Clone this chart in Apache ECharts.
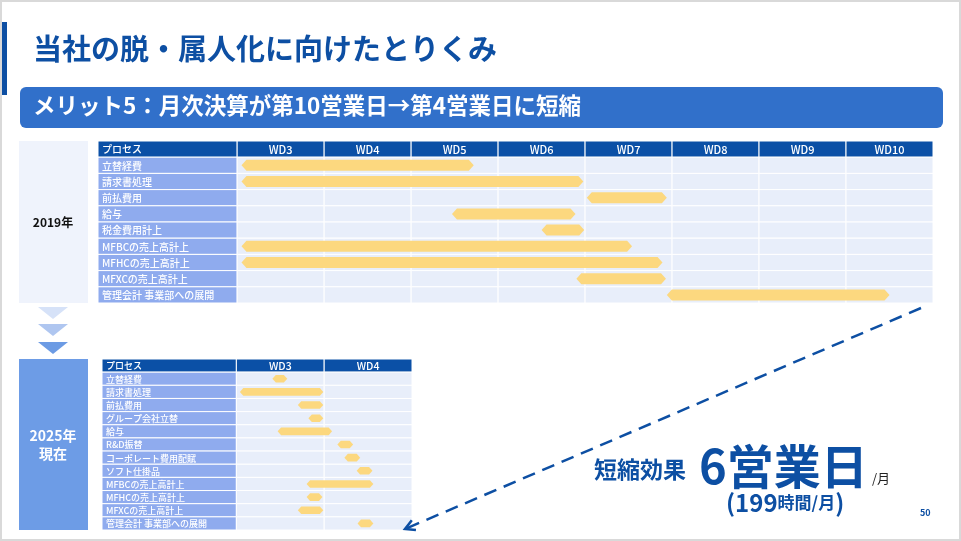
<!DOCTYPE html>
<html>
<head>
<meta charset="utf-8">
<script src="https://cdn.jsdelivr.net/npm/echarts@6/dist/echarts.min.js"></script>
<style>
  html, body { margin: 0; padding: 0; background: #fff; }
  #chart { width: 961px; height: 541px; }
</style>
</head>
<body>
<div id="chart"></div>
<script>
// 2019 schedule (WD3 column spans 3..4, WD10 spans 10..11)
const upperDays = ['WD3', 'WD4', 'WD5', 'WD6', 'WD7', 'WD8', 'WD9', 'WD10'];
const upperProcesses = ['立替経費', '請求書処理', '前払費用', '給与', '税金費用計上', 'MFBCの売上高計上', 'MFHCの売上高計上', 'MFXCの売上高計上', '管理会計 事業部への展開'];
const upperStart = [3.05, 3.05, 7.02, 5.47, 6.50, 3.05, 3.05, 6.90, 7.94];
const upperEnd = [5.72, 6.98, 7.94, 6.89, 6.99, 7.54, 7.89, 7.93, 10.50];

// 2025 schedule
const lowerDays = ['WD3', 'WD4'];
const lowerProcesses = ['立替経費', '請求書処理', '前払費用', 'グループ会社立替', '給与', 'R&D振替', 'コーポレート費用配賦', 'ソフト仕掛品', 'MFBCの売上高計上', 'MFHCの売上高計上', 'MFXCの売上高計上', '管理会計 事業部への展開'];
const lowerStart = [3.41, 3.04, 3.70, 3.82, 3.47, 4.15, 4.23, 4.37, 3.80, 3.80, 3.70, 4.38];
const lowerEnd = [3.58, 3.99, 3.99, 3.99, 4.09, 4.33, 4.41, 4.55, 4.56, 3.98, 3.99, 4.56];

const FONT = '"Noto Sans CJK JP", "Noto Sans", sans-serif';
const BLUE = '#0D4FA3';

// table frame: header row + label column + day cells
function tableSeries(gi, days, processes, xMin, fontSize, headSize) {
  return {
    type: 'custom',
    xAxisIndex: gi, yAxisIndex: gi,
    silent: true, z: 1,
    data: [[0]].concat(processes.map((p, i) => [i + 1])),
    encode: { y: 0 },
    renderItem(params, api) {
      const row = api.value(0);
      const head = row === 0;
      const children = [];
      const cell = (x0, x1, fill, text, align, size) => {
        const a = api.coord([x0, row]);
        const b = api.coord([x1, row + 1]);
        children.push({
          type: 'rect',
          shape: { x: a[0], y: a[1], width: b[0] - a[0], height: b[1] - a[1] },
          style: { fill: fill, stroke: '#fff', lineWidth: 1 }
        });
        if (text) {
          children.push({
            type: 'text',
            x: align === 'left' ? a[0] + 4 : (a[0] + b[0]) / 2,
            y: (a[1] + b[1]) / 2 + 0.5,
            style: {
              text: text, fill: '#fff', align: align, verticalAlign: 'middle',
              font: '500 ' + size + 'px ' + FONT
            }
          });
        }
      };
      cell(xMin, 3, head ? '#0B50A6' : '#8FABEE', head ? 'プロセス' : processes[row - 1], 'left', fontSize);
      days.forEach((d, i) => cell(3 + i, 4 + i, head ? '#0B50A6' : '#E8EEFA', head ? d : '', 'center', headSize));
      return { type: 'group', children: children };
    }
  };
}

// pointed bars
function barSeries(gi, starts, ends, ratio) {
  return {
    type: 'custom',
    xAxisIndex: gi, yAxisIndex: gi,
    silent: true, z: 2,
    data: starts.map((s, i) => [i + 1, s, ends[i]]),
    encode: { y: 0, x: [1, 2] },
    renderItem(params, api) {
      const row = api.value(0);
      const p1 = api.coord([api.value(1), row + 0.5]);
      const p2 = api.coord([api.value(2), row + 0.5]);
      const h = api.size([0, 1])[1] * ratio;
      const t = h * 0.45;
      const y = p1[1];
      return {
        type: 'polygon',
        shape: { points: [[p1[0], y], [p1[0] + t, y - h / 2], [p2[0] - t, y - h / 2], [p2[0], y], [p2[0] - t, y + h / 2], [p1[0] + t, y + h / 2]] },
        style: { fill: '#FCD87F' }
      };
    }
  };
}

// dashed arrow from the upper table to the lower one
const arrowFrom = [921, 308];
const arrowTo = [405, 529];
const dx = arrowTo[0] - arrowFrom[0], dy = arrowTo[1] - arrowFrom[1];
const len = Math.sqrt(dx * dx + dy * dy);
const ux = dx / len, uy = dy / len;
const headLen = 11;
const rot = (x, y, a) => [x * Math.cos(a) - y * Math.sin(a), x * Math.sin(a) + y * Math.cos(a)];
const h1 = rot(-ux, -uy, 0.5), h2 = rot(-ux, -uy, -0.5);

const chart = echarts.init(document.getElementById('chart'));
chart.setOption({
  backgroundColor: '#fff',
  animation: false,
  grid: [
    { left: 98, top: 141, width: 835, height: 162 },
    { left: 102, top: 359, width: 310, height: 171 }
  ],
  xAxis: [
    { type: 'value', gridIndex: 0, min: 1.4, max: 11, show: false },
    { type: 'value', gridIndex: 1, min: 1.47, max: 5, show: false }
  ],
  yAxis: [
    { type: 'value', gridIndex: 0, min: 0, max: 10, inverse: true, show: false },
    { type: 'value', gridIndex: 1, min: 0, max: 13, inverse: true, show: false }
  ],
  series: [
    tableSeries(0, upperDays, upperProcesses, 1.4, 10, 11),
    barSeries(0, upperStart, upperEnd, 0.68),
    tableSeries(1, lowerDays, lowerProcesses, 1.47, 9, 10.5),
    barSeries(1, lowerStart, lowerEnd, 0.58)
  ],
  graphic: [
    { type: 'rect', shape: { x: 1, y: 1, width: 959, height: 539 }, style: { fill: 'none', stroke: '#D9D9D9', lineWidth: 2 }, z: 10 },
    { type: 'rect', shape: { x: 0, y: 22, width: 7, height: 73 }, style: { fill: BLUE } },
    { type: 'text', x: 33, y: 49, style: { text: '当社の脱・属人化に向けたとりくみ', fill: BLUE, font: 'bold 29px ' + FONT, verticalAlign: 'middle' } },
    { type: 'rect', shape: { x: 20, y: 87, width: 923, height: 41, r: 6 }, style: { fill: '#3170CA' } },
    { type: 'text', x: 33, y: 105, style: { text: 'メリット5：月次決算が第10営業日→第4営業日に短縮', fill: '#fff', font: 'bold 22.5px ' + FONT, verticalAlign: 'middle' } },

    { type: 'rect', shape: { x: 19, y: 141, width: 69, height: 162 }, style: { fill: '#EFF3FC' } },
    { type: 'text', x: 53, y: 222, style: { text: '2019年', fill: '#111', font: 'bold 12px ' + FONT, align: 'center', verticalAlign: 'middle' } },

    { type: 'polygon', shape: { points: [[38, 307], [68, 307], [53, 319]] }, style: { fill: '#D6E2F8' } },
    { type: 'polygon', shape: { points: [[38, 324], [68, 324], [53, 336]] }, style: { fill: '#AFC6F0' } },
    { type: 'polygon', shape: { points: [[38, 342], [68, 342], [53, 354]] }, style: { fill: '#6C9BE4' } },

    { type: 'rect', shape: { x: 19, y: 359, width: 69, height: 171 }, style: { fill: '#6D9CE6' } },
    { type: 'text', x: 53, y: 445, style: { text: '2025年\n現在', fill: '#fff', font: 'bold 14px ' + FONT, align: 'center', verticalAlign: 'middle', lineHeight: 18 } },

    { type: 'line', shape: { x1: arrowFrom[0], y1: arrowFrom[1], x2: arrowTo[0], y2: arrowTo[1] }, style: { stroke: BLUE, lineWidth: 2.5, lineDash: [13, 8] }, z: 5 },
    { type: 'polyline', shape: { points: [[arrowTo[0] + h1[0] * headLen, arrowTo[1] + h1[1] * headLen], arrowTo, [arrowTo[0] + h2[0] * headLen, arrowTo[1] + h2[1] * headLen]] }, style: { stroke: BLUE, lineWidth: 2.5, fill: 'none' }, z: 5 },

    { type: 'text', x: 594, y: 469, style: { text: '短縮効果', fill: BLUE, font: 'bold 23px ' + FONT, verticalAlign: 'middle' } },
    { type: 'text', x: 699, y: 466, style: { text: '6営業日', fill: BLUE, font: 'bold 47px ' + FONT, verticalAlign: 'middle' } },
    { type: 'text', x: 872, y: 478, style: { text: '/月', fill: '#222', font: '13px ' + FONT, verticalAlign: 'middle' } },
    {
      type: 'text', x: 726, y: 503,
      style: {
        text: '{b|(199}{s|時間/月}{b|)}', verticalAlign: 'middle',
        rich: {
          b: { fill: BLUE, font: 'bold 24px ' + FONT },
          s: { fill: BLUE, font: 'bold 17px ' + FONT }
        }
      }
    },
    { type: 'text', x: 920, y: 513, style: { text: '50', fill: BLUE, font: 'bold 9px ' + FONT, verticalAlign: 'middle' } }
  ]
});
</script>
</body>
</html>
